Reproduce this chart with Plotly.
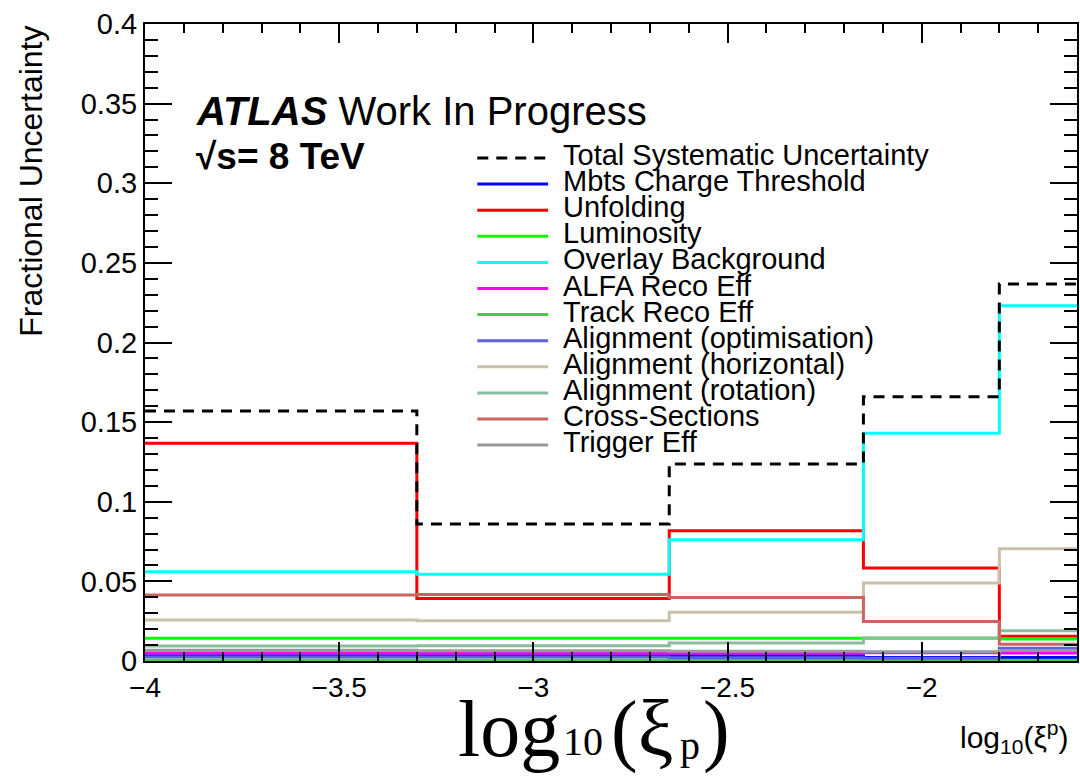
import plotly.graph_objects as go

# ---- data ----
bin_edges = [-4.0, -3.3, -2.65, -2.15, -1.8, -1.5]

series_names = [
    "Mbts Charge Threshold",
    "Unfolding",
    "Luminosity",
    "Overlay Background",
    "ALFA Reco Eff",
    "Track Reco Eff",
    "Alignment (optimisation)",
    "Alignment (horizontal)",
    "Alignment (rotation)",
    "Cross-Sections",
    "Trigger Eff",
]
total_name = "Total Systematic Uncertainty"

total_syst = [0.157, 0.086, 0.1237, 0.166, 0.2367]
mbts = [0.0033, 0.0033, 0.0033, 0.0022, 0.0022]
unfolding = [0.1367, 0.0393, 0.0818, 0.0584, 0.0156]
luminosity = [0.0143, 0.0143, 0.0143, 0.0143, 0.0138]
overlay = [0.0561, 0.0544, 0.0762, 0.143, 0.2231]
alfa_reco = [0.005, 0.005, 0.005, 0.0052, 0.0050]
track_reco = [0.0005, 0.0005, 0.0005, 0.0005, 0.0005]
align_opt = [0.0025, 0.0025, 0.002, 0.0018, 0.008]
align_hor = [0.0257, 0.0252, 0.0306, 0.049, 0.0705]
align_rot = [0.0094, 0.0096, 0.0113, 0.0145, 0.019]
cross_sec = [0.0415, 0.0418, 0.0398, 0.0248, 0.0105]
trigger = [0.0068, 0.0065, 0.0062, 0.0058, 0.0066]

series_values = [mbts, unfolding, luminosity, overlay, alfa_reco, track_reco,
                 align_opt, align_hor, align_rot, cross_sec, trigger]
series_colors = ["#0000ff", "#ff0000", "#00ff00", "#00ffff", "#ff00ff", "#44cc44",
                 "#5f5fe0", "#c9c1a9", "#8abd9c", "#cd6464", "#999999"]

x_tick_vals = [-4, -3.5, -3, -2.5, -2]
x_tick_text = ["\u22124", "\u22123.5", "\u22123", "\u22122.5", "\u22122"]
y_tick_vals = [0, 0.05, 0.1, 0.15, 0.2, 0.25, 0.3, 0.35, 0.4]
y_tick_text = ["0", "0.05", "0.1", "0.15", "0.2", "0.25", "0.3", "0.35", "0.4"]

# ---- layout geometry (pixels) ----
W, H = 1080, 777
ML, MR, MT, MB = 145, 1, 24, 116
PW, PH = W - ML - MR, H - MT - MB


def px_x(p):
    return (p - ML) / PW


def px_y(p):
    return (H - MB - p) / PH


SANS = "Liberation Sans, Arial, Helvetica, sans-serif"
SERIF = "Liberation Serif, Times New Roman, serif"

fig = go.Figure()


def step(vals):
    return list(vals) + [vals[-1]]


for name, vals, col in zip(series_names, series_values, series_colors):
    fig.add_trace(go.Scatter(x=bin_edges, y=step(vals), mode="lines", name=name,
                             line=dict(color=col, width=3, shape="hv"),
                             showlegend=False, hoverinfo="skip"))

fig.add_trace(go.Scatter(x=bin_edges, y=step(total_syst), mode="lines", name=total_name,
                         line=dict(color="black", width=3, shape="hv", dash="11px,8px"),
                         showlegend=False, hoverinfo="skip"))

# ---- manual legend ----
leg_names = [total_name] + series_names
leg_colors = ["black"] + series_colors
row0, row_step = 158, 26.1
shapes = []
annotations = []
for i, (nm, col) in enumerate(zip(leg_names, leg_colors)):
    yy = row0 + row_step * i
    shapes.append(dict(type="line", xref="paper", yref="paper",
                       x0=px_x(478), x1=px_x(549), y0=px_y(yy), y1=px_y(yy),
                       line=dict(color=col, width=3,
                                 dash="11px,8px" if i == 0 else "solid")))
    annotations.append(dict(text=nm, xref="paper", yref="paper",
                            x=px_x(562), y=px_y(yy - 3), xanchor="left", yanchor="middle",
                            showarrow=False, font=dict(family=SANS, size=29, color="black")))

# ---- texts ----
annotations.append(dict(text="<b><i>ATLAS</i></b> Work In Progress", xref="paper", yref="paper",
                        x=px_x(194), y=px_y(111), xanchor="left", yanchor="middle",
                        showarrow=False, font=dict(family=SANS, size=40, color="black")))
annotations.append(dict(text="<b>\u221as= 8 TeV</b>", xref="paper", yref="paper",
                        x=px_x(194), y=px_y(156), xanchor="left", yanchor="middle",
                        showarrow=False, font=dict(family=SANS, size=37, color="black")))
annotations.append(dict(text="Fractional Uncertainty", xref="paper", yref="paper",
                        x=px_x(30), y=px_y(24), xanchor="center", yanchor="top",
                        textangle=-90, showarrow=False,
                        font=dict(family=SANS, size=32, color="black")))


def serif_piece(txt, left, baseline, size):
    # centre of the text box relative to the baseline for Liberation Serif
    centre = baseline - 0.3375 * size
    annotations.append(dict(text=txt, xref="paper", yref="paper",
                            x=px_x(left), y=px_y(centre), xanchor="left", yanchor="middle",
                            showarrow=False, borderpad=0,
                            font=dict(family=SERIF, size=size, color="black")))


serif_piece("log", 458, 756, 80)
serif_piece("10", 563, 755, 40)
serif_piece("(\u03be", 611, 756, 80)
serif_piece("p", 680, 759, 40)
serif_piece(")", 703, 756, 80)

annotations.append(dict(text="log<sub>10</sub>(\u03be<sup>p</sup>)", xref="paper", yref="paper",
                        x=px_x(1073), y=px_y(737), xanchor="right", yanchor="middle",
                        showarrow=False, font=dict(family=SANS, size=30, color="black")))

fig.update_layout(
    width=W, height=H,
    margin=dict(l=ML, r=MR, t=MT, b=MB, pad=0),
    paper_bgcolor="white", plot_bgcolor="white",
    showlegend=False,
    shapes=shapes, annotations=annotations,
    font=dict(family=SANS, color="black"),
)

fig.update_xaxes(
    range=[-4, -1.6], showgrid=False, zeroline=False,
    showline=True, linecolor="black", linewidth=2, mirror="ticks",
    ticks="inside", ticklen=19, tickwidth=2, tickcolor="black",
    tickvals=x_tick_vals, ticktext=x_tick_text,
    tickfont=dict(family=SANS, size=28, color="black"),
    minor=dict(ticks="inside", ticklen=9, tickwidth=2, tickcolor="black",
               dtick=0.1, tick0=-4, showgrid=False),
)
fig.update_yaxes(
    range=[0, 0.4], showgrid=False, zeroline=False,
    showline=True, linecolor="black", linewidth=2, mirror="ticks",
    ticks="inside", ticklen=27, tickwidth=2, tickcolor="black",
    tickvals=y_tick_vals, ticktext=y_tick_text,
    tickfont=dict(family=SANS, size=29, color="black"),
    minor=dict(ticks="inside", ticklen=13, tickwidth=2, tickcolor="black",
               dtick=0.01, tick0=0, showgrid=False),
)

fig.write_html("out.html")
